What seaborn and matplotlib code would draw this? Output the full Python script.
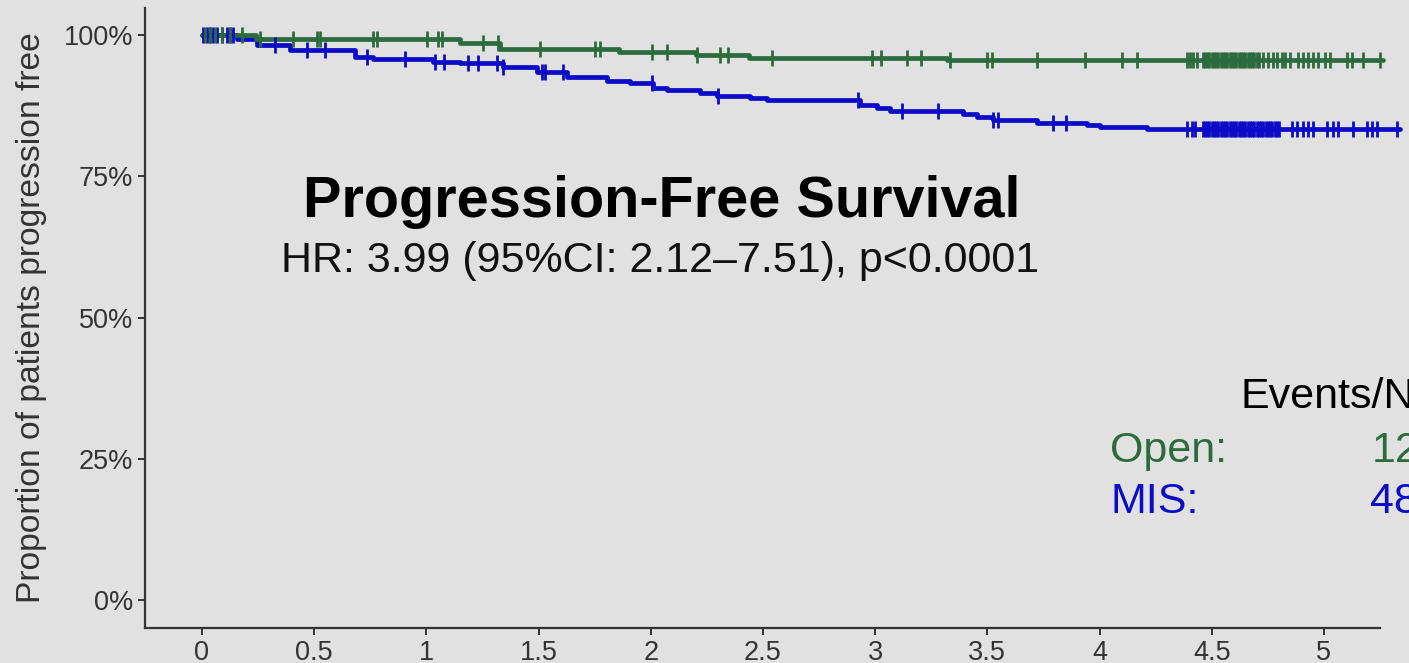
import numpy as np
import pandas as pd
import matplotlib
matplotlib.use("Agg")
import matplotlib.pyplot as plt
import seaborn as sns

# ---------------- data ----------------
# Kaplan-Meier step points: time (years) and survival (%)
open_times = [0.0, 0.24, 1.15, 1.33, 1.86, 2.20, 2.44, 3.32, 5.263]
open_surv = [100.0, 99.3, 98.6, 97.5, 97.0, 96.5, 95.9, 95.6, 95.6]

mis_times = [0.0, 0.156, 0.245, 0.392, 0.682, 0.762, 1.029, 1.15, 1.341, 1.493,
             1.627, 1.805, 1.907, 2.01, 2.072, 2.219, 2.295, 2.442, 2.518, 2.932,
             3.008, 3.066, 3.391, 3.454, 3.525, 3.721, 3.944, 4.002, 4.211, 5.339]
mis_surv = [100.0, 99.3, 98.2, 97.3, 96.1, 95.75, 95.2, 95.0, 94.3, 93.5,
            92.6, 91.9, 91.5, 90.6, 90.3, 89.7, 89.2, 88.8, 88.5, 87.6,
            87.1, 86.5, 86.0, 85.5, 85.0, 84.4, 84.1, 83.7, 83.4, 83.4]

# censoring times (years)
open_censor = [0.013, 0.036, 0.058, 0.089, 0.125, 0.178, 0.258, 0.406, 0.512, 0.526,
               0.762, 0.780, 1.003, 1.052, 1.070, 1.252, 1.319, 1.506, 1.751, 1.774,
               2.005, 2.072, 2.206, 2.308, 2.344, 2.540, 2.986, 3.026, 3.142, 3.204,
               3.333, 3.498, 3.521, 3.721, 3.935, 4.100, 4.167,
               4.389, 4.403, 4.416, 4.434,
               4.46, 4.47, 4.48, 4.49, 4.50, 4.51, 4.52, 4.53, 4.54, 4.55, 4.56,
               4.57, 4.58, 4.59, 4.60, 4.61, 4.62, 4.63, 4.64, 4.65, 4.66, 4.67,
               4.68, 4.69, 4.70, 4.71,
               4.728, 4.750, 4.773, 4.791, 4.813, 4.826, 4.848,
               4.884, 4.906, 4.929, 4.951, 4.973, 5.004, 5.027,
               5.102, 5.125, 5.174, 5.250]

mis_censor = [0.004, 0.022, 0.036, 0.049, 0.067, 0.089, 0.111, 0.125, 0.138,
              0.325, 0.468, 0.548, 0.735, 0.905, 1.038, 1.078, 1.185, 1.230,
              1.315, 1.341, 1.515, 1.529, 1.609, 2.005, 2.299, 2.923, 3.119,
              3.280, 3.525, 3.547, 3.792, 3.850, 4.389, 4.412, 4.425,
              4.46, 4.47, 4.48, 4.49, 4.50, 4.51, 4.52, 4.53, 4.54, 4.55, 4.56,
              4.57, 4.58, 4.59, 4.60, 4.61, 4.62, 4.63, 4.64, 4.65, 4.66, 4.67,
              4.68, 4.69, 4.70, 4.71, 4.72, 4.73, 4.74, 4.75, 4.76, 4.77, 4.78,
              4.79, 4.80,
              4.857, 4.880, 4.906, 4.929, 4.951, 5.013, 5.040, 5.062, 5.129,
              5.192, 5.214, 5.236, 5.325]

x_ticks = [0, 0.5, 1, 1.5, 2, 2.5, 3, 3.5, 4, 4.5, 5]
x_tick_labels = ["0", "0.5", "1", "1.5", "2", "2.5", "3", "3.5", "4", "4.5", "5"]
y_ticks = [0, 25, 50, 75, 100]
y_tick_labels = ["0%", "25%", "50%", "75%", "100%"]

title_text = "Progression-Free Survival"
subtitle_text = "HR: 3.99 (95%CI: 2.12\u20137.51), p<0.0001"
events_header = "Events/N"
group_names = ["Open:", "MIS:"]
group_events = ["12", "48"]

# ---------------- style ----------------
GREEN = "#2c6b3e"
BLUE = "#0c0cc8"
BG = "#e1e1e1"
INK = "#333333"

sns.set_theme(style="white")
plt.rcParams["font.family"] = ["Liberation Sans", "DejaVu Sans"]

W, H = 1409, 663
fig = plt.figure(figsize=(W / 100, H / 100), dpi=100, facecolor=BG)
ax_left, ax_right, ax_top, ax_bottom = 145, 1380, 8, 628
ax = fig.add_axes([ax_left / W, 1 - ax_bottom / H,
                   (ax_right - ax_left) / W, (ax_bottom - ax_top) / H])
ax.set_facecolor(BG)


def surv_at(times, surv, t):
    idx = np.searchsorted(np.asarray(times), np.asarray(t), side="right") - 1
    return np.asarray(surv)[np.clip(idx, 0, len(surv) - 1)]


curves = pd.concat([
    pd.DataFrame({"time": open_times, "surv": open_surv, "group": "Open"}),
    pd.DataFrame({"time": mis_times, "surv": mis_surv, "group": "MIS"}),
])
censors = pd.concat([
    pd.DataFrame({"time": open_censor,
                  "surv": surv_at(open_times, open_surv, open_censor), "group": "Open"}),
    pd.DataFrame({"time": mis_censor,
                  "surv": surv_at(mis_times, mis_surv, mis_censor), "group": "MIS"}),
])
palette = {"Open": GREEN, "MIS": BLUE}

for grp in ["MIS", "Open"]:
    sub = curves[curves.group == grp]
    sns.lineplot(data=sub, x="time", y="surv", color=palette[grp], ax=ax,
                 drawstyle="steps-post", linewidth=3.4, estimator=None,
                 sort=False, legend=False, clip_on=False)
    csub = censors[censors.group == grp]
    sns.scatterplot(data=csub, x="time", y="surv", color=palette[grp], ax=ax,
                    marker="|", s=140, linewidth=2.0, legend=False, clip_on=False,
                    zorder=3)

ax.set_xlim(-0.254, 5.25)
ax.set_ylim(-4.96, 104.8)
ax.set_xticks(x_ticks)
ax.set_xticklabels(x_tick_labels)
ax.set_yticks(y_ticks)
ax.set_yticklabels(y_tick_labels)
ax.set_xlabel("")
ax.set_ylabel("Proportion of patients progression free", fontsize=24.2, color=INK)
ax.yaxis.set_label_coords((47 - ax_left) / (ax_right - ax_left), 0.5)

for side in ["top", "right"]:
    ax.spines[side].set_visible(False)
for side in ["left", "bottom"]:
    ax.spines[side].set_visible(True)
    ax.spines[side].set_color(INK)
    ax.spines[side].set_linewidth(1.6)
ax.tick_params(axis="both", which="major", length=5, width=1.4, color=INK,
               labelcolor=INK, labelsize=19.5, pad=3.5, left=True, bottom=True)

# annotations (figure pixel positions)
fig.text(662 / W, 1 - 217 / H, title_text, ha="center", va="baseline",
         fontsize=41.5, fontweight="bold", color="black")
fig.text(660 / W, 1 - 272 / H, subtitle_text, ha="center", va="baseline",
         fontsize=31, color="#111111")
fig.text(1241 / W, 1 - 408 / H, events_header, ha="left", va="baseline",
         fontsize=31, color="black")
fig.text(1110 / W, 1 - 462 / H, group_names[0], ha="left", va="baseline",
         fontsize=31, color=GREEN)
fig.text(1110 / W, 1 - 513 / H, group_names[1], ha="left", va="baseline",
         fontsize=31, color=BLUE)
fig.text(1372 / W, 1 - 462 / H, group_events[0], ha="left", va="baseline",
         fontsize=31, color=GREEN)
fig.text(1370 / W, 1 - 513 / H, group_events[1], ha="left", va="baseline",
         fontsize=31, color=BLUE)

fig.savefig("out.png", dpi=100, facecolor=BG)
